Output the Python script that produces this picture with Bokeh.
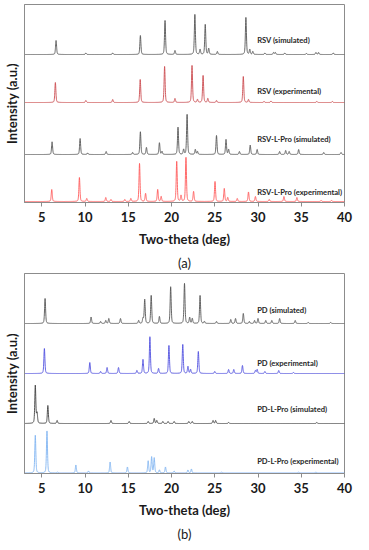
import numpy as np
from bokeh.plotting import figure
from bokeh.layouts import column
from bokeh.models import ColumnDataSource, FixedTicker, Title, Range1d
from bokeh.core.properties import value
from bokeh.embed import file_html
from bokeh.resources import INLINE

# ---------------- data: peak lists (2theta, relative height) ----------------
x_ticks = [5, 10, 15, 20, 25, 30, 35, 40]

rsv_sim_pos = [6.65, 10.1, 13.2, 16.4, 19.25, 20.4, 22.7, 23.3, 23.9, 24.3, 25.3, 28.6, 29.05, 29.4,
               30.8, 31.8, 32.0, 33.1, 35.6, 36.7, 37.0, 38.7]
rsv_sim_int = [14, 1.5, 1.5, 19, 34, 4, 40, 5, 30, 6, 3, 37, 5, 3,
               1.5, 2, 2, 1.5, 1, 2, 2, 1.5]

rsv_exp_pos = [6.57, 10.1, 13.2, 16.38, 19.2, 20.4, 22.37, 23.0, 23.65, 24.2, 25.2, 28.3, 28.9,
               30.7, 31.5, 36.8, 38.6]
rsv_exp_int = [20, 2, 3, 23, 36, 4, 37, 3, 27, 4, 2, 26, 3,
               1, 1.5, 1, 1]

rsvp_sim_pos = [6.19, 9.43, 10.3, 12.44, 15.5, 16.4, 17.1, 18.6, 18.9, 20.75, 21.4, 21.8, 22.75, 23.0,
                25.2, 26.3, 26.6, 27.85, 29.1, 29.9, 32.5, 33.2, 33.6, 34.7, 37.6, 39.6]
rsvp_sim_int = [12.7, 16, 1.5, 3, 2, 22.7, 7, 11.7, 3, 27.3, 5, 40, 5, 3,
                19, 15, 5, 3, 9.4, 5, 3, 4, 3, 5, 2, 2]

rsvp_exp_pos = [6.15, 9.35, 10.2, 12.4, 13.0, 14.6, 15.3, 16.3, 17.0, 18.4, 18.8, 20.6, 21.1, 21.67,
                22.55, 25.03, 26.1, 26.5, 27.6, 28.9, 29.7, 31.3, 33.0, 34.5, 37.3, 38.5]
rsvp_exp_int = [12, 24, 3, 4, 2, 2, 3, 38, 8, 12, 5, 40, 6, 44,
                10, 20, 13, 4, 3, 9.5, 5, 2, 5, 4, 1, 1]

pd_sim_pos = [5.38, 10.7, 11.8, 12.4, 12.75, 14.1, 16.2, 16.7, 16.9, 17.65, 18.6, 19.9, 21.5, 22.1,
              22.4, 23.3, 23.8, 25.2, 26.85, 27.4, 28.3, 29.0, 29.6, 30.0, 30.9, 31.6, 32.5, 34.3,
              35.8, 38.4]
pd_sim_int = [25, 6.5, 2, 3, 5, 5, 3, 5, 24, 28, 7, 36.7, 40, 6,
              5, 28, 2, 2, 4, 5, 10, 2, 3, 5, 3, 3, 5, 3,
              1, 1]

pd_exp_pos = [5.3, 10.55, 11.8, 12.55, 13.87, 16.0, 16.7, 17.5, 18.5, 19.7, 21.3, 21.9, 22.2, 23.1,
              25.0, 26.6, 27.2, 28.2, 29.7, 29.9, 30.8, 32.4, 34.1]
pd_exp_int = [25, 11, 2, 6, 6, 3, 14, 36.7, 5, 28, 29, 7, 4, 22,
              2, 4, 4, 8, 3, 4, 2, 3, 1]

pdp_sim_pos = [4.25, 4.45, 5.7, 6.77, 13.0, 15.1, 17.3, 18.0, 18.3, 19.0, 19.6, 20.3, 22.0, 22.4,
               24.8, 25.1, 26.6, 36.8]
pdp_sim_int = [38, 10, 18, 3, 3, 2, 2, 5, 3, 2, 2, 2, 2, 2,
               3, 3, 1, 1]

pdp_exp_pos = [4.25, 5.6, 6.8, 8.94, 10.4, 12.9, 14.9, 17.3, 17.7, 18.0, 18.6, 19.3, 20.3, 21.9,
               22.3, 25.8, 34.7, 36.7]
pdp_exp_int = [37.7, 42, 1, 8, 2, 11, 6, 12, 16, 15, 3, 6, 2, 3,
               4, 1, 1, 1]

# stacking offsets
offsets_a = [148, 100, 48, 1]
offsets_b = [150, 100, 50, 0.5]

labels_a = ["RSV (simulated)", "RSV (experimental)", "RSV-L-Pro (simulated)", "RSV-L-Pro (experimental)"]
labels_b = ["PD (simulated)", "PD (experimental)", "PD-L-Pro (simulated)", "PD-L-Pro (experimental)"]
label_dy_a = [15, 12, 16, 10]
label_dy_b = [14, 11, 15, 12]

colors_a = ["#555555", "#cc4c50", "#555555", "#ff5a5a"]
colors_b = ["#555555", "#5050e0", "#404040", "#80b4f2"]

grid = np.arange(3.0, 40.001, 0.01)


def profile(pos, inten, fwhm=0.14, eta=0.4):
    y = np.zeros_like(grid)
    hw = fwhm / 2.0
    for p, h in zip(pos, inten):
        d = grid - p
        lor = 1.0 / (1.0 + (d / hw) ** 2)
        gau = np.exp(-np.log(2) * (d / hw) ** 2)
        y += h * (eta * lor + (1 - eta) * gau)
    return y


def make_panel(series, offsets, labels, label_dy, colors, ymax, frame_h, tag, top_border):
    p = figure(frame_width=320, frame_height=frame_h, output_backend="svg", toolbar_location=None,
               x_range=Range1d(3, 40), y_range=Range1d(0, ymax),
               min_border_left=20, min_border_right=13, min_border_top=top_border,
               min_border_bottom=10)
    p.grid.visible = False
    p.outline_line_color = "#8c8c8c"
    p.outline_line_width = 1
    p.background_fill_color = "white"
    p.border_fill_color = "white"

    for (pos, inten), off, col in zip(series, offsets, colors):
        src = ColumnDataSource(dict(x=grid, y=profile(pos, inten) + off))
        p.line("x", "y", source=src, line_color=col, line_width=0.9)

    lab_src = ColumnDataSource(dict(x=[29.9] * 4,
                                    y=[o + d for o, d in zip(offsets, label_dy)],
                                    t=labels))
    p.text("x", "y", text="t", source=lab_src, text_font=value("Lato"), text_font_style="bold",
           text_font_size="7.6px", text_color="#262626", text_baseline="middle", text_align="left")

    xa = p.xaxis[0]
    xa.ticker = FixedTicker(ticks=x_ticks)
    xa.axis_line_color = "#8c8c8c"
    xa.major_tick_line_color = "#8c8c8c"
    xa.major_tick_in = 0
    xa.major_tick_out = 4
    xa.minor_tick_line_color = None
    xa.major_label_text_font = "Lato"
    xa.major_label_text_font_style = "bold"
    xa.major_label_text_font_size = "13px"
    xa.major_label_text_color = "#1a1a1a"
    xa.major_label_standoff = 5
    xa.axis_label = "Two-theta (deg)"
    xa.axis_label_text_font = "Lato"
    xa.axis_label_text_font_style = "bold"
    xa.axis_label_text_font_size = "13px"
    xa.axis_label_text_color = "#1a1a1a"
    xa.axis_label_standoff = 6

    ya = p.yaxis[0]
    ya.ticker = FixedTicker(ticks=[])
    ya.axis_line_color = "#8c8c8c"
    ya.major_tick_out = 0
    ya.major_tick_in = 0
    ya.minor_tick_line_color = None
    ya.major_label_standoff = 0
    ya.axis_label = "Intensity (a.u.)"
    ya.axis_label_text_font = "Lato"
    ya.axis_label_text_font_style = "bold"
    ya.axis_label_text_font_size = "13px"
    ya.axis_label_text_color = "#1a1a1a"
    ya.axis_label_standoff = 5

    p.add_layout(Title(text=tag, align="center", text_font="Lato", text_font_size="13px",
                       text_font_style="normal", text_color="#1a1a1a", standoff=6), "below")
    return p


series_a = [(rsv_sim_pos, rsv_sim_int), (rsv_exp_pos, rsv_exp_int),
            (rsvp_sim_pos, rsvp_sim_int), (rsvp_exp_pos, rsvp_exp_int)]
series_b = [(pd_sim_pos, pd_sim_int), (pd_exp_pos, pd_exp_int),
            (pdp_sim_pos, pdp_sim_int), (pdp_exp_pos, pdp_exp_int)]

pa = make_panel(series_a, offsets_a, labels_a, label_dy_a, colors_a, 198, 198, "(a)", 4)
pb = make_panel(series_b, offsets_b, labels_b, label_dy_b, colors_b, 200, 200, "(b)", 0)

layout = column(pa, pb, spacing=0)
open("out.html", "w").write(file_html(layout, INLINE))
